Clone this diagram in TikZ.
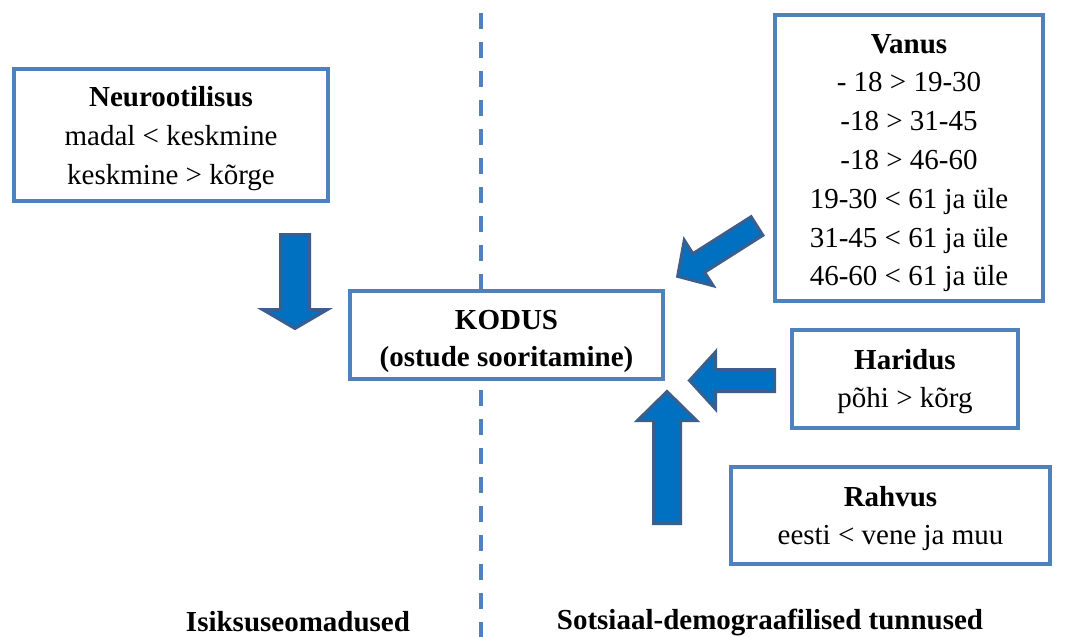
\documentclass[tikz,border=0pt]{standalone}
\usepackage{fontspec}
\setmainfont{Liberation Serif}
\definecolor{boxline}{HTML}{4F81BD}
\definecolor{arrowfill}{HTML}{0070C0}
\definecolor{arrowline}{HTML}{3A5F8F}
\tikzset{
  infobox/.style={draw=boxline, fill=white, line width=4pt, inner sep=0pt},
  infotext/.style={align=center, inner sep=0pt, font=\fontsize{29}{38.8}\selectfont},
  grouplabel/.style={font=\fontsize{29}{32}\selectfont\bfseries},
  arrowshape/.style={fill=arrowfill, draw=arrowline, line width=3pt, line join=miter},
  % block arrow along +x: length, shaft width, head width, head length
  pics/blockarrow/.style n args={4}{code={
    \draw[arrowshape] (0,-#2/2) -- (#1-#4,-#2/2) -- (#1-#4,-#3/2) -- (#1,0)
      -- (#1-#4,#3/2) -- (#1-#4,#2/2) -- (0,#2/2) -- cycle;
  }}
}
\begin{document}
\begin{tikzpicture}[x=1pt, y=-1pt]
\useasboundingbox (0,0) rectangle (1072,637);

% divider between the two groups
\draw[boxline, line width=3.5pt, dash pattern=on 16pt off 13pt] (481,13) -- (481,637);

% factor boxes
\node[infobox, minimum width=314pt, minimum height=132pt] (neuro) at (171,135) {};
\node[infobox, minimum width=268pt, minimum height=286pt] (vanus) at (909,158) {};
\node[infobox, minimum width=313pt, minimum height=88pt] (kodus) at (506.5,335) {};
\node[infobox, minimum width=226pt, minimum height=98pt] (haridus) at (905,379) {};
\node[infobox, minimum width=319pt, minimum height=97pt] (rahvus) at (890.5,515.5) {};

% box contents
\node[infotext] (neuro-t) at ([yshift=-3.5pt]neuro.center)
  {\textbf{Neurootilisus}\\madal < keskmine\\keskmine > kõrge};
\node[infotext] (vanus-t) at ([yshift=-5pt]vanus.center)
  {\textbf{Vanus}\\- 18 > 19-30\\-18 > 31-45\\-18 > 46-60\\19-30 < 61 ja üle\\31-45 < 61 ja üle\\46-60 < 61 ja üle};
\node[infotext, font=\fontsize{29}{37}\selectfont\bfseries] (kodus-t) at ([yshift=-6pt]kodus.center)
  {KODUS\\(ostude sooritamine)};
\node[infotext] (haridus-t) at ([yshift=-2.5pt]haridus.center)
  {\textbf{Haridus}\\põhi > kõrg};
\node[infotext] (rahvus-t) at ([yshift=-3pt]rahvus.center)
  {\textbf{Rahvus}\\eesti < vene ja muu};

% group labels
\node[grouplabel] (isik) at (298,622) {Isiksuseomadused};
\node[grouplabel] (sots) at (770,622) {Sotsiaal-demograafilised tunnused};

% block arrows pointing towards the central box
\pic[rotate=-90] at (295,234.5) {blockarrow={94}{29}{65}{19}};
\pic[rotate=212.4] at (757,226) {blockarrow={94}{22}{54}{25}};
\pic[rotate=180] at (774.5,380.5) {blockarrow={85}{22}{57}{26}};
\pic[rotate=90] at (667,523.5) {blockarrow={132}{27}{59}{29}};
\end{tikzpicture}
\end{document}
